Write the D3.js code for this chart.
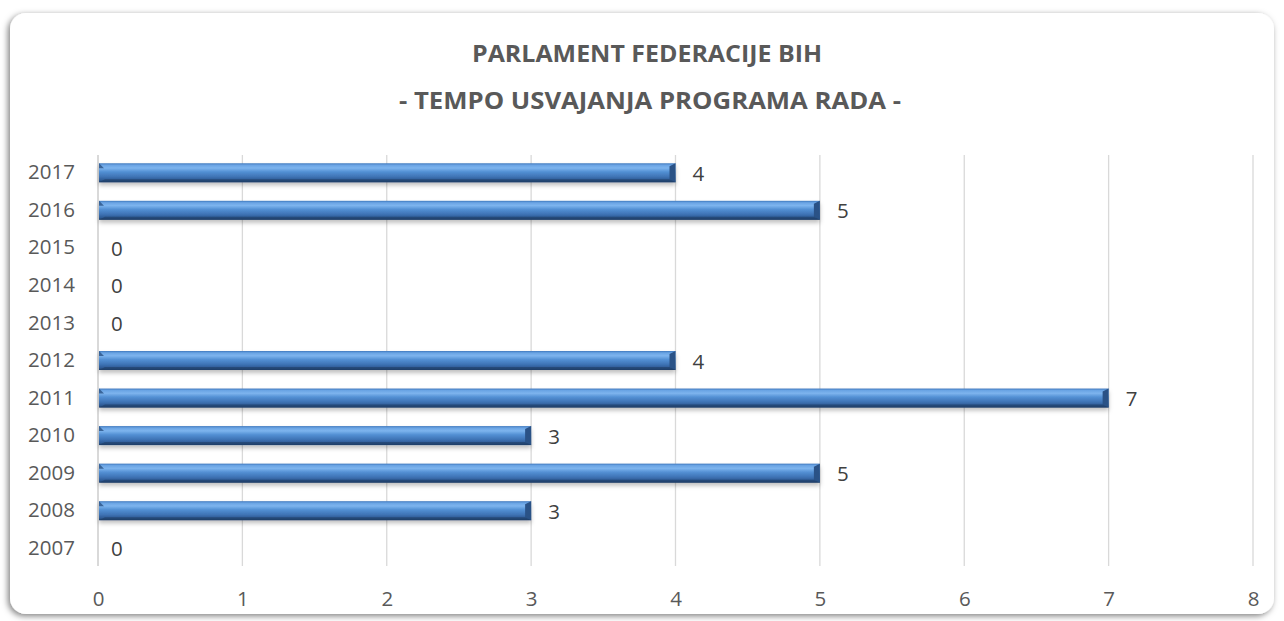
<!DOCTYPE html>
<html><head><meta charset="utf-8">
<script src="https://cdn.jsdelivr.net/npm/d3@7"></script>
<style>body{margin:0;background:#fff;}svg{display:block;font-family:"Open Sans",sans-serif;}</style>
</head><body>
<script>
const years = ["2017","2016","2015","2014","2013","2012","2011","2010","2009","2008","2007"];
const values = [4,5,0,0,0,4,7,3,5,3,0];
const xTicks = [0,1,2,3,4,5,6,7,8];
const title1 = "PARLAMENT FEDERACIJE BIH";
const title2 = "- TEMPO USVAJANJA PROGRAMA RADA -";

const W=1284,H=621;
const svg=d3.select("body").append("svg").attr("width",W).attr("height",H);
const defs=svg.append("defs");
const f=defs.append("filter").attr("id","sh").attr("x","-5%").attr("y","-5%").attr("width","110%").attr("height","115%");
f.append("feDropShadow").attr("dx",-2).attr("dy",2).attr("stdDeviation",3).attr("flood-color","#000").attr("flood-opacity",0.5);
const bs=defs.append("filter").attr("id","bs").attr("x","-5%").attr("y","-50%").attr("width","110%").attr("height","250%");
bs.append("feDropShadow").attr("dx",0).attr("dy",3).attr("stdDeviation",2).attr("flood-color","#000").attr("flood-opacity",0.25);
const g1=defs.append("linearGradient").attr("id","bg").attr("x1",0).attr("y1",0).attr("x2",0).attr("y2",1);
[[0,"#3f78bd"],[0.1,"#6aa4e4"],[0.25,"#7db4ee"],[0.45,"#5390d4"],[0.7,"#3f74b6"],[0.88,"#2e5b95"],[1,"#1f3f6a"]].forEach(d=>g1.append("stop").attr("offset",d[0]).attr("stop-color",d[1]));

svg.append("rect").attr("x",10).attr("y",13).attr("width",1264).attr("height",601).attr("rx",16)
  .attr("fill","#fff").attr("filter","url(#sh)");

svg.append("text").attr("x",647).attr("y",62).attr("text-anchor","middle").attr("font-weight","bold")
  .style("font-size","24px").attr("fill","#595959").attr("textLength",350).attr("lengthAdjust","spacingAndGlyphs").text(title1);
svg.append("text").attr("x",650).attr("y",109).attr("text-anchor","middle").attr("font-weight","bold")
  .style("font-size","24px").attr("fill","#595959").attr("textLength",502).attr("lengthAdjust","spacingAndGlyphs").text(title2);

const x=d3.scaleLinear().domain([0,8]).range([98,1253]);
const y=d3.scaleBand().domain(years).range([154,567]).paddingInner(0.5).paddingOuter(0.25);

svg.append("g").selectAll("line").data(xTicks).join("line")
  .attr("x1",d=>x(d)).attr("x2",d=>x(d)).attr("y1",155).attr("y2",566)
  .attr("stroke","#d9d9d9").attr("stroke-width",d=>d===0?2:1.3);

const FS="20.5px";
const xa=svg.append("g").attr("transform","translate(0,566)")
  .call(d3.axisBottom(x).tickValues(xTicks).tickSize(0).tickPadding(25).tickFormat(d3.format("d")));
xa.select(".domain").remove();
xa.attr("font-size",null).attr("font-family",null);
xa.selectAll("text").style("font-size",FS).attr("fill","#595959").style("font-family","Open Sans");

const ya=svg.append("g").attr("transform","translate(75,0)")
  .call(d3.axisLeft(y).tickSize(0).tickPadding(0));
ya.select(".domain").remove();
ya.attr("font-size",null).attr("font-family",null);
ya.selectAll("text").style("font-size",FS).attr("fill","#595959").style("font-family","Open Sans");

const data=years.map((yy,i)=>({y:yy,v:values[i]}));
const bh=19;
const bars=svg.append("g").selectAll("g").data(data.filter(d=>d.v>0)).join("g");
bars.each(function(d){
  const g=d3.select(this);
  const cy=y(d.y)+y.bandwidth()/2;
  const x0=x(0)+1,x1=x(d.v);
  const top=cy-bh/2;
  g.append("rect").attr("x",x0).attr("y",top).attr("width",x1-x0).attr("height",bh)
    .attr("fill","url(#bg)").attr("filter","url(#bs)");
  g.append("path").attr("d",`M${x1-6},${top+3}L${x1},${top}L${x1},${top+bh}L${x1-6},${top+bh-3}Z`).attr("fill","#2a5286");
  g.append("path").attr("d",`M${x1-6},${top+bh-3}L${x1},${top+bh}L${x0},${top+bh}L${x0+6},${top+bh-3}Z`).attr("fill","#1f3d66").attr("opacity",0.6);
  g.append("path").attr("d",`M${x0},${top}L${x0+5},${top+5}L${x0},${top+5}Z`).attr("fill","#2a5286").attr("opacity",0.8);
});

svg.append("g").selectAll("text").data(data).join("text")
  .attr("x",d=>x(d.v)+(d.v>0?17:13)).attr("y",d=>y(d.y)+y.bandwidth()/2+8)
  .style("font-size",FS).attr("fill","#404040").text(d=>d.v);
</script>
</body></html>
